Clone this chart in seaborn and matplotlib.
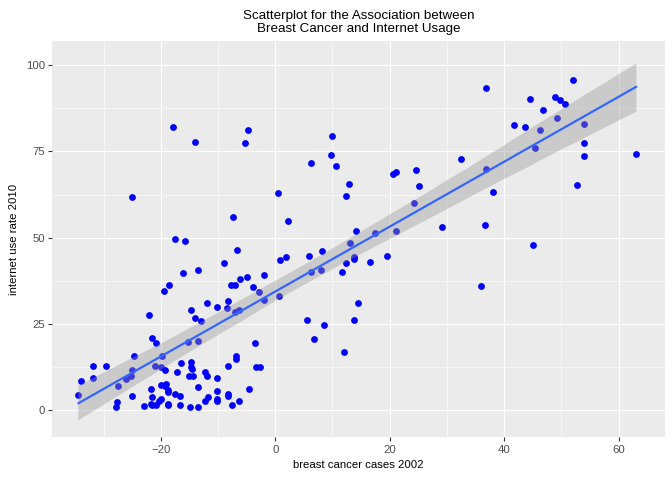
import numpy as np
import pandas as pd
import matplotlib
matplotlib.use("Agg")
import matplotlib.pyplot as plt
import seaborn as sns
from matplotlib.ticker import FixedLocator

# breast cancer cases 2002 (centred) and internet use rate 2010
breast_cancer = [
    -22.1, -14.7, -11.9, -14.0, -12.9, -21.5, -20.8, -15.2, -13.5, -24.7,
    -19.8, -31.8, -29.5, -21.0, -20.0, -19.3, -16.4, -14.7, -14.7, -14.5,
    -17.1, -15.0, -14.3, -12.2, -12.0, -25.1, -25.2, -26.0, -27.4, -33.9,
    -31.9, -34.4, -25.1, -27.7, -27.9, -23.0, -21.7, -21.5, -20.0, -19.3,
    -19.1, -18.7, -18.7, -17.5, -16.6, -20.0, -20.3, -21.7, -21.5, -20.8,
    -18.7, -18.7, -16.6, -14.9, -13.5, -13.5, -12.2, -11.7,
    -10.1, -8.5, -8.2, -7.1, -6.4, -2.0, -3.6, -6.9, -6.9, -8.3,
    -3.3, -2.7, -10.1, -10.1, -8.3, -8.3, -4.6, -10.1, -10.1, -6.4,
    -7.5, 5.6, 8.6, 6.8, 12.1, 13.8, 14.5,
    -17.9, -14.0, -5.3, -4.8, -25.1, -7.3, -17.5, -15.7, -6.6, -9.0,
    -13.5, -16.1, -5.0, -6.2, -18.6, -19.4, -7.8, -7.1,
    10.0, 9.8, 10.7, 6.3, 0.5, 2.2, 12.9, 12.4, 20.5, 21.1,
    24.6, 25.1, 24.2, 14.2, 13.1, 17.5, 21.1, 0.8, 1.9, 5.9,
    8.2, 13.7, 13.7, 12.4, 16.5, 19.5, 11.7, 6.3, 8.0, -2.0,
    -3.8, -2.9, 0.6,
    36.9, 52.1, 44.6, 48.8, 49.8, 50.7, 46.7, 49.3, 41.8, 43.7,
    46.3, 54.0, 54.0, 54.0, 45.3, 63.1, 32.5, 36.9, 38.1, 52.8,
    29.2, 36.6, 45.1, 36.0,
]
internet_use = [
    27.7, 28.9, 30.9, 26.6, 25.7, 21.0, 19.3, 19.6, 19.9, 15.8,
    15.8, 12.9, 12.9, 12.9, 12.4, 11.5, 13.5, 13.8, 12.4, 11.8,
    10.9, 10.0, 10.0, 10.9, 9.8, 11.5, 10.0, 8.9, 6.9, 8.3,
    9.2, 4.3, 4.0, 2.2, 0.8, 1.1, 6.0, 3.7, 7.2, 6.9,
    7.5, 5.7, 5.1, 4.8, 4.0, 3.1, 2.5, 1.9, 1.4, 1.4,
    1.9, 1.4, 1.4, 0.8, 0.8, 6.6, 2.5, 3.7,
    30.0, 29.7, 31.5, 28.3, 28.9, 31.9, 19.5, 15.8, 14.7, 12.7,
    12.4, 12.4, 9.4, 5.4, 4.8, 4.0, 6.0, 3.1, 2.5, 2.5,
    1.4, 26.2, 24.8, 20.5, 16.7, 26.2, 30.9,
    82.1, 77.8, 77.5, 81.3, 61.9, 56.1, 49.7, 48.9, 46.5, 42.5,
    40.7, 39.6, 38.7, 38.1, 36.4, 34.4, 36.4, 36.4,
    79.5, 74.0, 70.9, 71.5, 62.8, 54.9, 65.6, 62.2, 68.5, 69.1,
    69.7, 65.1, 59.9, 51.8, 48.3, 51.2, 51.8, 43.4, 44.5, 44.8,
    46.0, 44.5, 43.8, 42.5, 42.8, 44.8, 39.9, 39.9, 40.5, 39.3,
    35.8, 34.1, 33.2,
    93.3, 95.6, 90.1, 90.7, 89.8, 88.7, 87.0, 84.6, 82.6, 82.0,
    81.1, 82.9, 77.4, 73.6, 75.9, 74.2, 72.7, 69.8, 63.2, 65.2,
    53.0, 53.6, 47.8, 35.9,
]
x_ticks = [-20, 0, 20, 40, 60]
y_ticks = [0, 25, 50, 75, 100]
x_minor = [-30, -10, 10, 30, 50]
y_minor = [12.5, 37.5, 62.5, 87.5]

df = pd.DataFrame({"breastcancer": breast_cancer, "internetuse": internet_use})

sns.set_theme(style="white")
plt.rcParams["font.family"] = ["Liberation Sans", "DejaVu Sans"]

fig = plt.figure(figsize=(6.72, 4.8), dpi=100)
W, H = 672, 480
left, right, top, bottom = 52, 665, 40.7, 437.3
ax = fig.add_axes([left / W, 1 - bottom / H, (right - left) / W, (bottom - top) / H])
ax.set_facecolor("#EBEBEB")

sns.scatterplot(data=df, x="breastcancer", y="internetuse", ax=ax,
                color="#0000FF", s=24, linewidth=0, zorder=3)
sns.regplot(data=df, x="breastcancer", y="internetuse", ax=ax, scatter=False,
            color="#999999", ci=97, n_boot=2000, seed=1,
            line_kws={"color": "#3366FF", "linewidth": 1.6, "zorder": 5})
for coll in ax.collections[1:]:
    coll.set_facecolor("#999999")
    coll.set_edgecolor("none")
    coll.set_alpha(0.4)
    coll.set_zorder(4)

ax.set_xlim(-39.0, 68.1)
ax.set_ylim(-7.9, 107.1)
ax.xaxis.set_major_locator(FixedLocator(x_ticks))
ax.yaxis.set_major_locator(FixedLocator(y_ticks))
ax.xaxis.set_minor_locator(FixedLocator(x_minor))
ax.yaxis.set_minor_locator(FixedLocator(y_minor))
ax.grid(which="major", color="white", linewidth=0.8, zorder=0)
ax.grid(which="minor", color="white", linewidth=0.4, zorder=0)
ax.set_axisbelow(True)
for s in ax.spines.values():
    s.set_visible(False)

ax.tick_params(axis="both", which="major", length=3, width=0.8, color="#333333",
               labelsize=8.2, labelcolor="#4D4D4D", pad=2.2,
               bottom=True, left=True)
ax.tick_params(axis="both", which="minor", length=0)

ax.set_xlabel("breast cancer cases 2002", fontsize=8.2, color="black", labelpad=4)
ax.set_ylabel("internet use rate 2010", fontsize=8.2, color="black", labelpad=5)
ax.set_title("Scatterplot for the Association between\nBreast Cancer and Internet Usage",
             fontsize=9.6, color="black", pad=6, linespacing=1.1)

fig.savefig("out.png", dpi=100)
